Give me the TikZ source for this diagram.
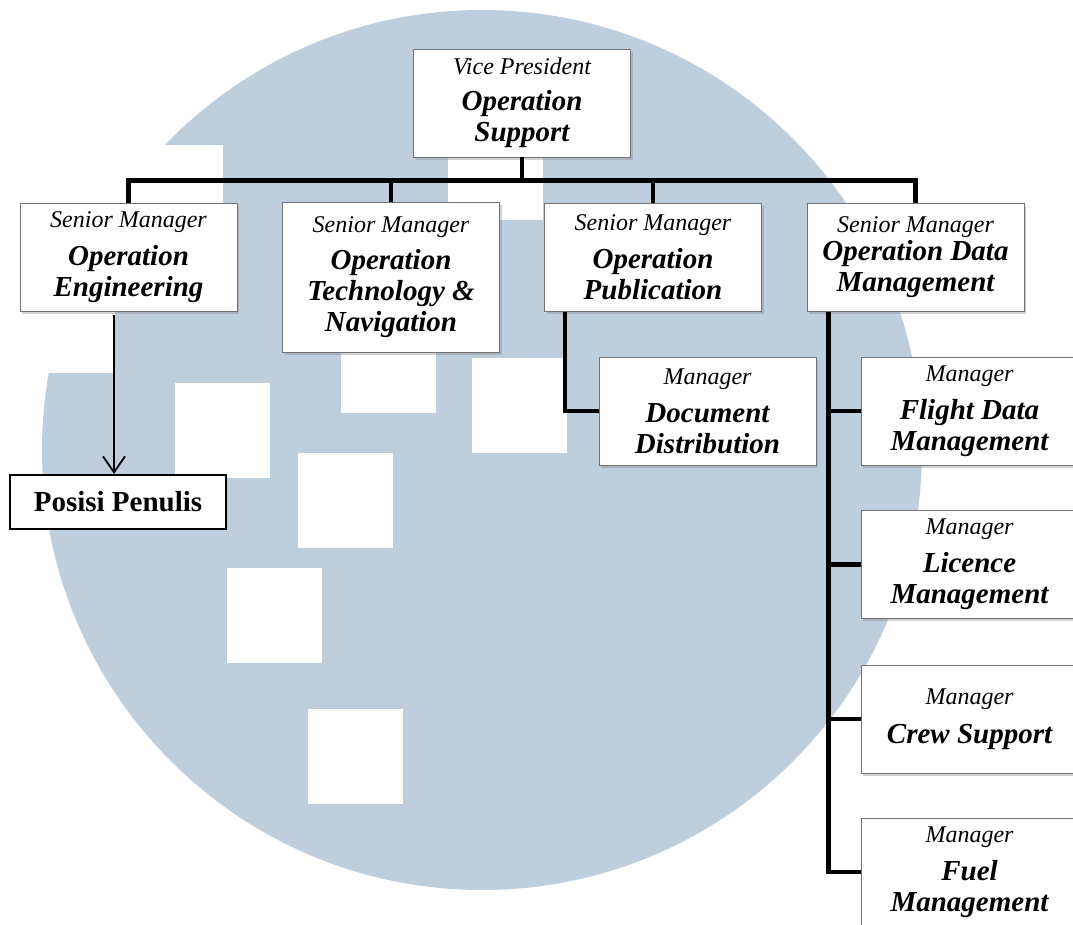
\documentclass[tikz,border=0pt]{standalone}
\usepackage{fontspec}
\setmainfont{Liberation Serif}
\usetikzlibrary{shadows,arrows.meta}

\definecolor{logoblue}{RGB}{191,206,221}
\newcommand{\jab}[1]{{\fontsize{24}{26}\selectfont\mdseries #1}}

\begin{document}
\begin{tikzpicture}[x=1pt, y=-1pt,
  unit/.style={draw=black!55, line width=0.7pt, fill=white, minimum width=217pt, minimum height=108pt, text width=210pt, align=flush center, inner sep=0pt, font=\fontsize{29}{31}\selectfont\bfseries\itshape, drop shadow={shadow xshift=2pt, shadow yshift=-2.5pt, opacity=0.35}},
  pen/.style={draw, line width=2.2pt, fill=white, minimum width=216pt, minimum height=54pt, inner sep=0pt, font=\fontsize{29}{31}\selectfont\bfseries},
  bus/.style={line width=4.5pt},
  arr/.style={line width=1.8pt, -{Straight Barb[length=16pt, width=22pt, line width=1.8pt]}}]
\useasboundingbox (0,0) rectangle (1073,924);
\clip (0,0) rectangle (1073,924);
\fill[white] (0,0) rectangle (1073,924);

% logo in the background
\fill[logoblue] (482,450) circle (440pt);
\foreach \a/\b in {110/145, 20/278, 175/383, 341/318, 472/358, 298/453, 227/568, 308/709, 448/125}
  \fill[white] (\a,\b) rectangle ++(95,95);
\fill[white] (110,145) rectangle (223,240);

% units
\node[unit] (vp) at (522,103) {\jab{Vice President}\\[5pt] Operation\\Support};
\node[unit] (oe) at (128.5,257) {\jab{Senior Manager}\\[7pt] Operation\\Engineering};
\node[unit, minimum height=150pt] (otn) at (391,277) {\jab{Senior Manager}\\[6pt] Operation\\Technology \&\\Navigation};
\node[unit] (op) at (653,257.5) {\jab{Senior Manager}\\[7pt] Operation\\Publication};
\node[unit] (odm) at (915.5,257.5) {\jab{Senior Manager}\\[-3pt] Operation Data\\Management};
\node[unit] (dd) at (707.5,411) {\jab{Manager}\\[7pt] Document\\Distribution};
\node[unit] (fdm) at (969.5,411) {\jab{Manager}\\[7pt] Flight Data\\Management};
\node[unit] (lm) at (969.5,564.5) {\jab{Manager}\\[7pt] Licence\\Management};
\node[unit] (cs) at (969.5,719) {\jab{Manager}\\[8pt] Crew Support};
\node[unit] (fm) at (969.5,872) {\jab{Manager}\\[7pt] Fuel\\Management};
\node[pen] (pp) at (118,502) {Posisi Penulis};

% lines
\draw[bus] (vp.south) -- ++(0,23) coordinate (hub);
\foreach \n in {oe,otn,op,odm}
  \draw[bus] (hub) -| (\n.north);
\draw[bus] ([xshift=21pt]op.south west) |- (dd.west);
\foreach \n in {fdm,lm,cs,fm}
  \draw[bus] ([xshift=22pt]odm.south west) |- (\n.west);
\draw[arr] ([xshift=-4pt]pp.north |- oe.south) ++(0,4) -- ([xshift=-4pt]pp.north);
\end{tikzpicture}
\end{document}
